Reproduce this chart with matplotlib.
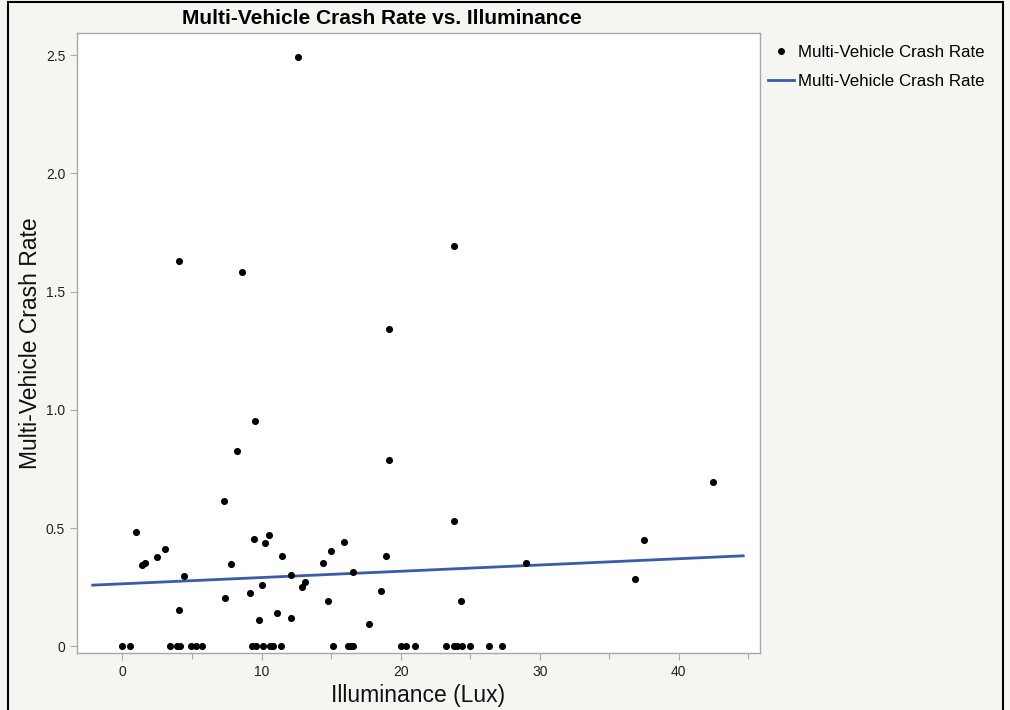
import numpy as np
import matplotlib
matplotlib.use("Agg")
import matplotlib.pyplot as plt
from matplotlib.lines import Line2D
from matplotlib.patches import Rectangle

# datos
lux = [0.96, 1.37, 1.65, 2.49, 3.09, 4.07, 4.39, 4.07, 7.31, 7.38, 7.77, 8.23,
       8.6, 9.2, 9.42, 9.5, 9.81, 10.05, 10.22, 10.53, 11.1, 11.46, 12.09, 12.09,
       12.6, 12.93, 13.09, 14.39, 14.75, 15.0, 15.92, 16.55, 17.75, 18.6, 18.92,
       19.14, 19.18, 23.81, 23.86, 24.32, 29.0, 36.83, 37.48, 42.49]
tasa = [0.482, 0.346, 0.354, 0.376, 0.412, 0.155, 0.299, 1.629, 0.613, 0.206,
        0.348, 0.825, 1.582, 0.226, 0.455, 0.955, 0.113, 0.261, 0.437, 0.471,
        0.14, 0.384, 0.302, 0.118, 2.494, 0.25, 0.274, 0.354, 0.193, 0.403,
        0.441, 0.314, 0.096, 0.233, 0.384, 1.344, 0.788, 1.692, 0.532, 0.19,
        0.352, 0.283, 0.45, 0.694]
lux_cero = [0.0, 0.55, 3.4, 3.9, 4.1, 4.95, 5.3, 5.75, 9.3, 9.6, 10.1, 10.6,
            10.8, 11.4, 15.15, 16.2, 16.4, 16.6, 20.0, 20.4, 21.0, 23.25, 23.8,
            24.05, 24.4, 25.0, 26.35, 27.3]
tasa_cero = [0.0] * len(lux_cero)

# recta ajustada (extremos)
ajuste_x = [-2.14, 44.63]
ajuste_y = [0.259, 0.383]

x_ticks = [0, 10, 20, 30, 40]
y_ticks = [0, 0.5, 1.0, 1.5, 2.0, 2.5]
y_etiquetas = ["0", "0.5", "1.0", "1.5", "2.0", "2.5"]

plt.rcParams["font.family"] = ["Liberation Sans", "DejaVu Sans"]
fondo = "#f5f5f1"
gris = "#a8a8a8"
azul = "#3a5ba8"

fig = plt.figure(figsize=(10.1, 7.1), dpi=100, facecolor=fondo)
ax = fig.add_axes([77 / 1010, 1 - 653 / 710, (759.5 - 77) / 1010, (653 - 33) / 710])
ax.set_facecolor("white")

todos_x = lux + lux_cero
todos_y = tasa + tasa_cero
ax.scatter(todos_x, todos_y, s=26, color="black", zorder=3, linewidths=0)
ax.plot(ajuste_x, ajuste_y, color=azul, linewidth=2.0, zorder=2)

ax.set_xlim(-3.27, 45.8)
ax.set_ylim(-0.028, 2.594)
ax.set_xticks(x_ticks)
ax.set_xticks([5, 15, 25, 35, 45], minor=True)
ax.set_yticks(y_ticks)
ax.set_yticklabels(y_etiquetas)
ax.tick_params(axis="both", colors=gris, labelcolor="#222222", labelsize=10,
               length=5, width=0.8)
ax.tick_params(axis="x", which="minor", colors=gris, length=4, width=0.8)
for s in ax.spines.values():
    s.set_color(gris)
    s.set_linewidth(1.0)

ax.set_xlabel("Illuminance (Lux)", fontsize=16.5, color="#111111", labelpad=4)
ax.set_ylabel("Multi-Vehicle Crash Rate", fontsize=16.5, color="#111111", labelpad=3)

fig.text(382 / 1010, 1 - 18 / 710, "Multi-Vehicle Crash Rate vs. Illuminance",
         ha="center", va="center", fontsize=15, fontweight="bold")

# leyenda
manejadores = [
    Line2D([], [], marker="o", linestyle="none", color="black", markersize=4),
    Line2D([], [], color=azul, linewidth=2.0),
]
fig.legend(manejadores, ["Multi-Vehicle Crash Rate", "Multi-Vehicle Crash Rate"],
           loc="upper left", bbox_to_anchor=(761 / 1010, 1 - 38 / 710),
           frameon=False, fontsize=12.2, handlelength=1.55, handletextpad=0.25,
           labelspacing=0.85, borderaxespad=0)

# marco exterior negro
fig.patches.append(Rectangle((8 / 1010, -0.1), (1003 - 8) / 1010, 1.1 - 2 / 710,
                             transform=fig.transFigure, fill=False,
                             edgecolor="black", linewidth=1.5))

plt.savefig("out.png", dpi=100, facecolor=fondo)
